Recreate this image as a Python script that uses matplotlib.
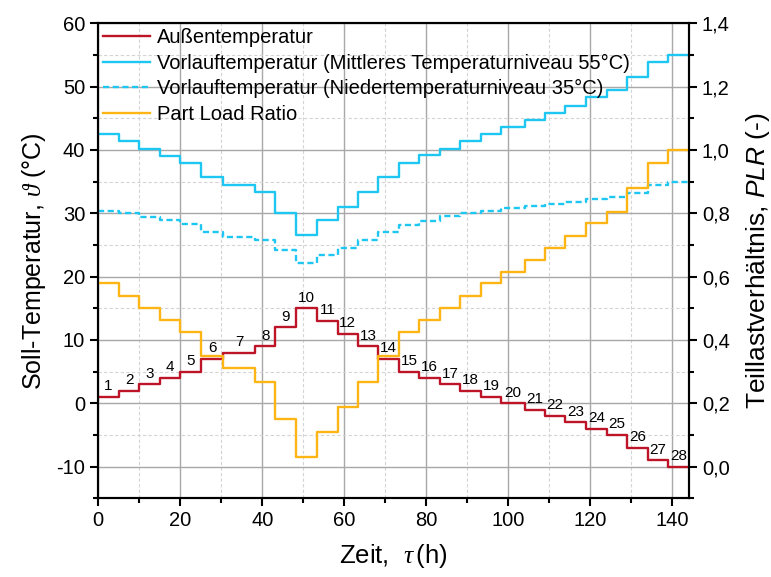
import numpy as np
import matplotlib.pyplot as plt
from matplotlib.ticker import MultipleLocator, FuncFormatter

plt.rcParams['font.family'] = ['Liberation Sans', 'DejaVu Sans']
plt.rcParams['mathtext.fontset'] = 'custom'
plt.rcParams['mathtext.rm'] = 'Liberation Sans'
plt.rcParams['mathtext.it'] = 'Liberation Serif:italic'
plt.rcParams['mathtext.sf'] = 'Liberation Sans:italic'
plt.rcParams['axes.unicode_minus'] = False

# step edges in hours (28 steps)
edges = [0, 5, 10, 15, 20, 25, 30.5, 38.3, 43.2, 48.3, 53.4, 58.4, 63.3, 68.3, 73.4,
         78.2, 83.3, 88.3, 93.3, 98.3, 104, 108.9, 113.9, 118.9, 124, 129, 134, 139, 144]

t_aussen = [1, 2, 3, 4, 5, 7, 8, 9, 12, 15, 13, 11, 9, 7,
            5, 4, 3, 2, 1, 0, -1, -2, -3, -4, -5, -7, -9, -10]

t_vl55 = [42.5, 41.4, 40.2, 39.1, 38.0, 35.7, 34.5, 33.4, 30.0, 26.6, 28.9, 31.0, 33.4, 35.7,
          38.0, 39.2, 40.2, 41.4, 42.5, 43.7, 44.8, 45.9, 47.0, 48.3, 49.4, 51.6, 53.9, 55.0]

t_vl35 = [30.4, 30.0, 29.4, 28.9, 28.3, 27.1, 26.3, 25.8, 24.2, 22.2, 23.4, 24.6, 25.8, 27.0,
          28.2, 28.8, 29.5, 30.0, 30.4, 30.8, 31.2, 31.5, 31.8, 32.2, 32.6, 33.2, 34.5, 35.0]

plr = [0.579, 0.540, 0.502, 0.463, 0.426, 0.350, 0.311, 0.268, 0.150, 0.030, 0.110, 0.189, 0.268, 0.350,
       0.426, 0.463, 0.502, 0.540, 0.579, 0.616, 0.653, 0.690, 0.728, 0.769, 0.805, 0.881, 0.960, 1.0]

c_red = '#BE1428'
c_blue = '#1EC6F2'
c_orange = '#FDB515'

fig = plt.figure(figsize=(7.71, 5.77), dpi=100)
ax = fig.add_axes([0.1275, 0.1364, 0.7658, 0.8232])
ax2 = ax.twinx()

def st(v):
    return list(v) + [v[-1]]

l1, = ax.plot(edges, st(t_aussen), drawstyle='steps-post', color=c_red, lw=1.7, label='Außentemperatur')
l2, = ax.plot(edges, st(t_vl55), drawstyle='steps-post', color=c_blue, lw=1.7,
              label='Vorlauftemperatur (Mittleres Temperaturniveau 55°C)')
l3, = ax.plot(edges, st(t_vl35), drawstyle='steps-post', color=c_blue, lw=1.7, ls=(0, (2.6, 1.5)),
              label='Vorlauftemperatur (Niedertemperaturniveau 35°C)')
l4, = ax2.plot(edges, st(plr), drawstyle='steps-post', color=c_orange, lw=1.7, label='Part Load Ratio')

for i, v in enumerate(t_aussen):
    xc = (edges[i] + edges[i + 1]) / 2
    ax.annotate(str(i + 1), (xc, v), xytext=(0, 2.5), textcoords='offset points',
                ha='center', va='bottom', fontsize=11)

ax.set_xlim(0, 144)
ax.set_ylim(-15, 60)
ax2.set_ylim(-0.1, 1.4)

ax.xaxis.set_major_locator(MultipleLocator(20))
ax.xaxis.set_minor_locator(MultipleLocator(10))
ax.yaxis.set_major_locator(MultipleLocator(10))
ax.yaxis.set_minor_locator(MultipleLocator(5))
ax2.yaxis.set_major_locator(MultipleLocator(0.2))
ax2.yaxis.set_minor_locator(MultipleLocator(0.1))
ax2.yaxis.set_major_formatter(FuncFormatter(lambda v, p: f'{v:.1f}'.replace('.', ',')))

ax.grid(which='major', color='#a8a8a8', lw=1.0)
ax.grid(which='minor', color='#d4d4d4', lw=0.8, ls=(0, (3, 2)))
ax.set_axisbelow(True)

for a in (ax, ax2):
    a.tick_params(which='major', direction='out', length=6, width=1.5, labelsize=14.5)
    a.tick_params(which='minor', direction='out', length=3.5, width=1.5)
    for s in a.spines.values():
        s.set_linewidth(1.5)

ax.set_xlabel(r'Zeit,  $\tau\,$(h)', fontsize=18.5, labelpad=8)
ax.set_ylabel(r'Soll-Temperatur, $\vartheta$ (°C)', fontsize=18, labelpad=6)
ax2.set_ylabel(r'Teillastverhältnis, $\mathsf{PLR}$ (-)', fontsize=19, labelpad=10)

ax2.legend(handles=[l1, l2, l3, l4], loc='upper left', frameon=False, fontsize=14.5,
           borderaxespad=0.0, borderpad=0.25, handlelength=2.3, handletextpad=0.35,
           labelspacing=0.32)

fig.savefig('out.png', dpi=100)
